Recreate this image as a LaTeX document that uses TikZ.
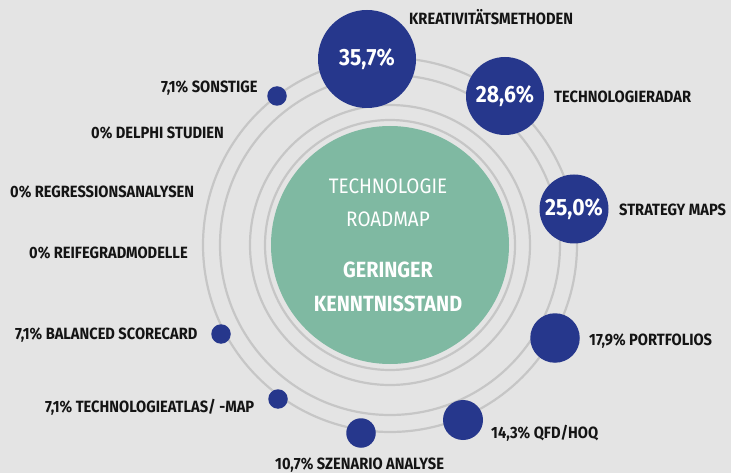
\documentclass[tikz,border=0pt]{standalone}
\usepackage{fontspec}
\setmainfont{Fira Sans}[FakeStretch=0.9]
\definecolor{bg}{RGB}{228,228,228}
\definecolor{ringc}{RGB}{198,198,198}
\definecolor{bubble}{RGB}{38,55,140}
\definecolor{core}{RGB}{127,185,162}
\definecolor{txt}{RGB}{20,20,20}
\tikzset{
  ring/.style={draw=ringc, line width=2.2pt},
  bub/.style={circle, fill=bubble, inner sep=0pt, minimum size=#1},
  pct/.style={text=white, font=\bfseries\fontsize{23.5}{23.5}\selectfont},
  lab/.style={anchor=base west, inner sep=0pt, text=txt, font=\bfseries\fontsize{16.3}{16.3}\selectfont},
  ctr/.style={text=white, inner sep=0pt, anchor=base},
}
\begin{document}
\begin{tikzpicture}[x=1pt,y=-1pt]
\useasboundingbox[fill=bg] (0,0) rectangle (731,473);
\coordinate (c) at (390,245);
% rings
\draw[ring] (c) circle[radius=125];
\draw[ring] (c) circle[radius=140];
\draw[ring] (c) circle[radius=170];
\draw[ring] (c) circle[radius=187];
% core
\node[circle, fill=core, minimum size=238pt, inner sep=0pt] (core) at (c) {};
\node[ctr, font=\fontsize{21}{21}\selectfont] (t1) at (388,193.5) {TECHNOLOGIE};
\node[ctr, font=\fontsize{21}{21}\selectfont] (t2) at (388,226.5) {ROADMAP};
\node[ctr, font=\bfseries\fontsize{22}{22}\selectfont] (t3) at (388,277.5) {GERINGER};
\node[ctr, font=\bfseries\fontsize{22}{22}\selectfont] (t4) at (388,311.5) {KENNTNISSTAND};
% bubbles
\node[bub=98pt] (b1) at (367,59) {};
\node[pct] at (b1) {35,7\%};
\node[bub=78pt] (b2) at (505,96) {};
\node[pct] at (b2) {28,6\%};
\node[bub=69pt] (b3) at (574,209) {};
\node[pct] at (b3) {25,0\%};
\node[bub=49.5pt] (b4) at (555,338) {};
\node[bub=40pt] (b5) at (463,420) {};
\node[bub=29.5pt] (b6) at (361,433) {};
\node[bub=19.5pt] (b7) at (278,399) {};
\node[bub=19.5pt] (b8) at (221,334) {};
\node[bub=19.5pt] (b9) at (277,96) {};
% labels
\node[lab] (l1) at (409,24.5) {KREATIVITÄTSMETHODEN};
\node[lab] (l2) at (554,102.5) {TECHNOLOGIERADAR};
\node[lab] (l3) at (619,215.5) {STRATEGY MAPS};
\node[lab] (l4) at (589,345.5) {17,9\% PORTFOLIOS};
\node[lab] (l5) at (491,438.5) {14,3\% QFD/HOQ};
\node[lab] (l6) at (275,469.5) {10,7\% SZENARIO ANALYSE};
\node[lab] (l7) at (45,412.5) {7,1\% TECHNOLOGIEATLAS/ -MAP};
\node[lab] (l8) at (15,339.5) {7,1\% BALANCED SCORECARD};
\node[lab] (l9) at (29,258.5) {0\% REIFEGRADMODELLE};
\node[lab] (l10) at (10,197.5) {0\% REGRESSIONSANALYSEN};
\node[lab] (l11) at (91,138.5) {0\% DELPHI STUDIEN};
\node[lab] (l12) at (161,92.5) {7,1\% SONSTIGE};
\end{tikzpicture}
\end{document}
